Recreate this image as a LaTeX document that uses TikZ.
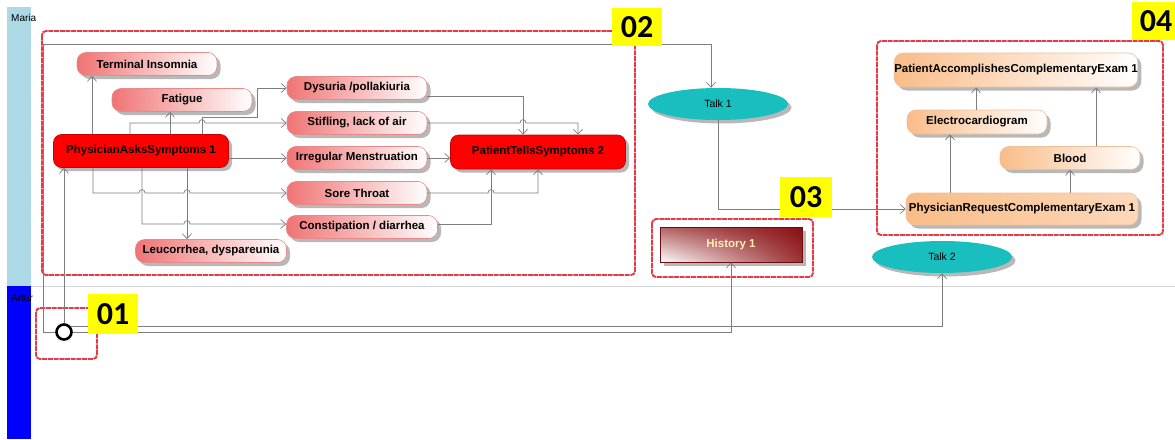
\documentclass[tikz,border=0pt]{standalone}
\usepackage{fontspec}
\setmainfont{Liberation Sans}
\newfontfamily\labfont{Carlito}
\usetikzlibrary{arrows.meta,shadows,shadings,shapes.geometric}
\definecolor{pinkL}{HTML}{F07474}
\definecolor{pinkD}{HTML}{E88A8A}
\definecolor{redF}{HTML}{FF0000}
\definecolor{redD}{HTML}{C80000}
\definecolor{orL}{HTML}{F9BC88}
\definecolor{orR}{HTML}{FCD8BA}
\definecolor{orD}{HTML}{EDC09A}
\definecolor{tealC}{HTML}{19BEBE}
\definecolor{histC}{HTML}{8A0F12}
\definecolor{histT}{HTML}{FFF0B4}
\definecolor{laneA}{HTML}{ADD8E6}
\definecolor{laneB}{HTML}{0000FF}
\definecolor{conn}{HTML}{7E7E7E}
\definecolor{grpred}{HTML}{E63A46}
\definecolor{shad}{HTML}{B8B8B8}
\definecolor{sepC}{HTML}{D6D6D6}
\definecolor{tagY}{HTML}{FFFF00}
\tikzset{
  every node/.style={font=\fontsize{11.5}{13}\selectfont\bfseries},
  shd/.style={drop shadow={shadow xshift=3.5pt,shadow yshift=-3.5pt,fill=shad,opacity=1}},
  box/.style={shd, rounded corners=9pt, minimum height=23pt, inner sep=0pt, line width=0.6pt},
  pinkbox/.style={box, draw=pinkD, left color=pinkL, right color=white},
  redbox/.style={box, rounded corners=8pt, minimum height=33pt, draw=redD, fill=redF},
  orbox/.style={box, draw=orD, left color=orL, right color=white},
  talk/.style={shd, ellipse, fill=tealC, minimum width=140pt, minimum height=32pt, inner sep=0pt, font=\fontsize{10.5}{12}\selectfont},
  arr/.style={draw=conn, line width=0.7pt, -{Straight Barb[length=5pt,width=9pt]}},
  grp/.style={draw=grpred, line width=1.9pt, dash pattern=on 5pt off 0.7pt, rounded corners=4pt},
  tag/.style={fill=tagY, font=\labfont\fontsize{32}{32}\selectfont\bfseries, inner sep=0pt},
  lane/.style={font=\fontsize{10}{12}\selectfont, anchor=west, inner sep=0pt},
}
\begin{document}
\begin{tikzpicture}[x=1pt,y=-1pt]
\useasboundingbox (0,0) rectangle (1175,439);
% lanes
\fill[laneA] (7,7) rectangle (31,286);
\fill[laneB] (7,286) rectangle (31,439);
\draw[sepC, line width=0.8pt] (31,286) -- (1175,286);
\node[lane] (maria) at (11,18) {Maria};
\node[lane] (artur) at (11,298) {Artur};
% groups
\draw[grp] (42,31) rectangle (635,275);
\draw[grp] (652,219) rectangle (813,277);
\draw[grp] (877,41) rectangle (1163,235);
\draw[grp] (36,308) rectangle (97,359);
% nodes region 02
\node[pinkbox, minimum width=140pt] (ti) at (147,64) {Terminal Insomnia};
\node[pinkbox, minimum width=140pt] (fat) at (182,100) {Fatigue};
\node[redbox, minimum width=175pt] (pas) at (141,151) {PhysicianAsksSymptoms 1};
\node[pinkbox, minimum width=151pt] (leu) at (211,251) {Leucorrhea, dyspareunia};
\node[pinkbox, minimum width=140pt] (dys) at (357,88) {Dysuria /pollakiuria};
\node[pinkbox, minimum width=140pt] (stif) at (357,123) {Stifling, lack of air};
\node[pinkbox, minimum width=140pt] (im) at (357,158) {Irregular Menstruation};
\node[pinkbox, minimum width=140pt] (st) at (357,193) {Sore Throat};
\node[pinkbox, minimum width=151pt] (con) at (362,227) {Constipation / diarrhea};
\node[redbox, minimum width=175pt, minimum height=34pt] (pts) at (538,152) {PatientTellsSymptoms 2};
% middle
\node[talk] (talk1) at (718,104) {Talk 1};
\node[talk] (talk2) at (942,257) {Talk 2};
\node[shd, rectangle, draw=histC!80!black, line width=0.6pt, minimum width=142pt, minimum height=35pt, inner sep=0pt,
      lower left=white, upper left=histC!65, upper right=histC, lower right=histC!85, text=histT] (hist) at (731,244.5) {History 1};
% region 04
\node[orbox, minimum width=243pt, minimum height=34pt] (pace) at (1016,70) {PatientAccomplishesComplementaryExam 1};
\node[orbox, minimum width=140pt, minimum height=24pt] (ecg) at (977,122) {Electrocardiogram};
\node[orbox, minimum width=140pt] (blood) at (1070,158) {Blood};
\node[box, draw=orD, left color=orL, right color=orR, minimum width=232pt, minimum height=32pt] (prce) at (1022,209) {PhysicianRequestComplementaryExam 1};
% start
\node[circle, draw=black, line width=2.6pt, fill=white, minimum size=15pt, inner sep=0pt] (start) at (64,332) {};
% connectors from start
\draw[arr] (start.north) -- (start.north |- pas.south);
\draw[arr] (start.west) -- (43,332) -- (43,44) -- (711,44) -- (711,0 |- talk1.north);
\draw[arr] (start.east) -| (hist.south);
\draw[arr] (start.36) -| (talk2.south);
% PAS outgoing
\draw[arr] (92,0 |- pas.north) -- (92,0 |- ti.south);
\draw[arr] (170,0 |- pas.north) -- (170,0 |- fat.south);
\draw[arr] (130,0 |- pas.north) -- (130,123) -- (199,123) .. controls (199,118.5) and (205,118.5) .. (205,123) -- (stif.west);
\draw[arr] (202,0 |- pas.north) -- (202,117) -- (257,117) -- (257,88) -- (dys.west);
\draw[arr] (pas.east |- im.west) -- (im.west);
\draw[arr] (93,0 |- pas.south) -- (93,193) -- (139,193) .. controls (139,188.5) and (145,188.5) .. (145,193) -- (184,193) .. controls (184,188.5) and (190,188.5) .. (190,193) -- (st.west);
\draw[arr] (142,0 |- pas.south) -- (142,224) -- (184,224) .. controls (184,219.5) and (190,219.5) .. (190,224) -- (con.west |- 0,224);
\draw[arr] (187,0 |- pas.south) -- (187,0 |- leu.north);
% into PTS
\draw[arr] (dys.east |- 0,96) -- (523,96) -- (523,0 |- pts.north);
\draw[arr] (stif.east) -- (520,123) .. controls (520,118.5) and (526,118.5) .. (526,123) -- (578,123) -- (578,0 |- pts.north);
\draw[arr] (im.east) -- (pts.west |- im.east);
\draw[arr] (st.east) -- (488,193) .. controls (488,188.5) and (494,188.5) .. (494,193) -- (538,193) -- (538,0 |- pts.south);
\draw[arr] (con.east |- 0,224) -- (491,224) -- (491,0 |- pts.south);
% talk1 to prce
\draw[arr] (talk1.south) |- (prce.west);
% region 04
\draw[arr] (950,0 |- prce.north) -- (950,0 |- ecg.south);
\draw[arr] (1070,0 |- prce.north) -- (1070,0 |- blood.south);
\draw[arr] (976,0 |- ecg.north) -- (976,0 |- pace.south);
\draw[arr] (1096,0 |- blood.north) -- (1096,0 |- pace.south);
% tags
\node[tag, minimum width=50pt, minimum height=38pt] (t2) at (637,27) {02};
\node[tag, minimum width=52pt, minimum height=40pt] (t3) at (806,197) {03};
\node[tag, minimum width=48pt, minimum height=38pt] (t4) at (1156,21) {04};
\node[tag, minimum width=50pt, minimum height=40pt] (t1) at (113,314) {01};
\end{tikzpicture}
\end{document}
